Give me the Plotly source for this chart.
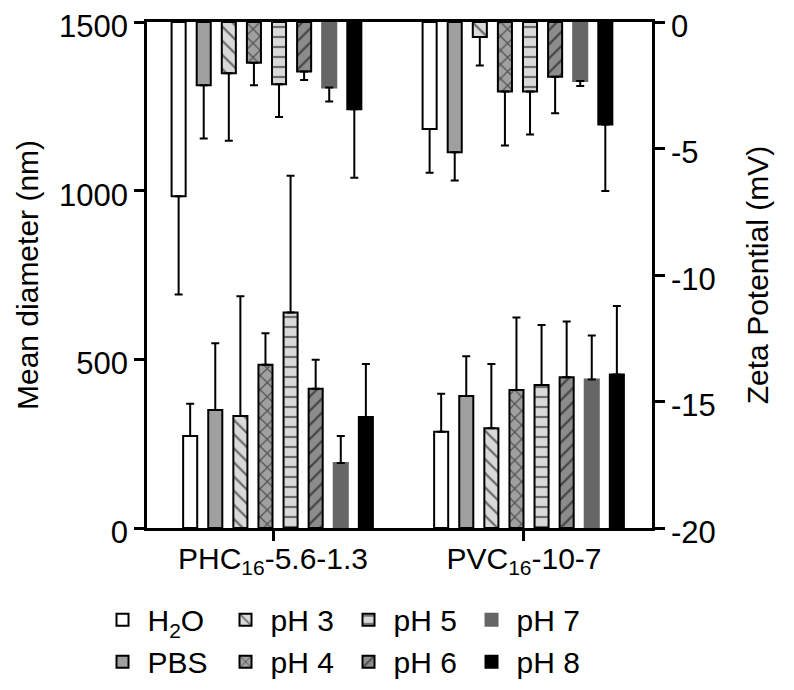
import plotly.graph_objects as go

# categories and series
groups = ["PHC<sub>16</sub>-5.6-1.3", "PVC<sub>16</sub>-10-7"]
series = ["H<sub>2</sub>O", "PBS", "pH 3", "pH 4", "pH 5", "pH 6", "pH 7", "pH 8"]

# mean diameter (nm), bars from the bottom, left axis
diam_phc = [273, 350, 332, 484, 639, 413, 193, 329]
diam_phc_err = [95, 198, 355, 93, 405, 86, 80, 157]
diam_pvc = [285, 391, 296, 409, 424, 447, 440, 455]
diam_pvc_err = [113, 118, 190, 215, 178, 165, 131, 203]

# zeta potential (mV), bars hanging from the top, right axis
zeta_phc = [-6.89, -2.50, -2.03, -1.61, -2.46, -1.96, -2.59, -3.45]
zeta_phc_err = [3.88, 2.10, 2.66, 0.89, 1.29, 0.33, 0.55, 2.71]
zeta_pvc = [-4.23, -5.15, -0.59, -2.75, -2.75, -2.16, -2.33, -4.05]
zeta_pvc_err = [1.73, 1.11, 1.13, 2.13, 1.70, 1.45, 0.20, 2.63]

diam_ticks = [0, 500, 1000, 1500]
zeta_ticks = [0, -5, -10, -15, -20]
zeta_ticktext = ["0", "-5", "-10", "-15", "-20"]

# style per series: fill, pattern shape, outline colour
styles = [
    dict(bg="#ffffff", shape="", line="#000000"),
    dict(bg="#a0a0a0", shape="", line="#000000"),
    dict(bg="#d9d9d9", shape="\\", line="#000000"),
    dict(bg="#a0a0a0", shape="x", line="#000000"),
    dict(bg="#d9d9d9", shape="-", line="#000000"),
    dict(bg="#8c8c8c", shape="/", line="#000000"),
    dict(bg="#666666", shape="", line="#666666"),
    dict(bg="#000000", shape="", line="#000000"),
]

FONT = "Liberation Sans, Arial, sans-serif"
STEP = 0.1      # spacing between bars within a group (x units)
WIDTH = 0.056   # bar width (x units)

fig = go.Figure()
xs = list(range(len(groups)))

for i, name in enumerate(series):
    st = styles[i]
    marker = dict(
        color=st["bg"],
        line=dict(color=st["line"], width=2),
        pattern=dict(shape=st["shape"], fgcolor="#000000", bgcolor=st["bg"],
                     size=10, solidity=0.22, fillmode="overlay"),
    )
    centre = (i - 3.5) * STEP
    # diameter bars
    fig.add_trace(go.Bar(
        x=xs, y=[diam_phc[i], diam_pvc[i]], name=name,
        width=WIDTH, offset=centre + 0.02 - WIDTH / 2,
        marker=marker, legendgroup=f"g{i // 2}",
        error_y=dict(type="data", symmetric=False,
                     array=[diam_phc_err[i], diam_pvc_err[i]], arrayminus=[0, 0],
                     color="#000000", thickness=2, width=4),
    ))
    # zeta bars
    fig.add_trace(go.Bar(
        x=xs, y=[zeta_phc[i], zeta_pvc[i]], name=name, yaxis="y2",
        width=WIDTH, offset=centre - 0.026 - WIDTH / 2,
        marker=marker, showlegend=False,
        error_y=dict(type="data", symmetric=False,
                     array=[0, 0], arrayminus=[zeta_phc_err[i], zeta_pvc_err[i]],
                     color="#000000", thickness=2, width=4),
    ))

axis_common = dict(showline=True, linecolor="#000000", linewidth=2.5,
                   ticks="outside", ticklen=10, tickwidth=2.5, tickcolor="#000000",
                   showgrid=False, zeroline=False, automargin=False,
                   ticklabeloverflow="allow",
                   tickfont=dict(size=31, color="#000000"))

fig.update_layout(
    width=794, height=690,
    barmode="overlay",
    plot_bgcolor="#ffffff", paper_bgcolor="#ffffff",
    font=dict(family=FONT, size=30, color="#000000"),
    # page body adds an 8px offset, so margins are shifted to compensate
    margin=dict(l=139, r=150, t=14, b=170, autoexpand=False),
    xaxis=dict(axis_common, range=[-0.502, 1.51], tickvals=xs, ticktext=groups,
               mirror=True, ticklabelstandoff=-8,
               tickfont=dict(size=30, color="#000000")),
    yaxis=dict(axis_common, range=[0, 1500], tickvals=diam_ticks, ticklabelshift=4,
               title=dict(text="Mean diameter (nm)", font=dict(size=30), standoff=12)),
    yaxis2=dict(axis_common, range=[-20, 0], tickvals=zeta_ticks, ticklabelshift=4,
                ticktext=zeta_ticktext, overlaying="y", side="right",
                title=dict(text="Zeta Potential (mV)", font=dict(size=30), standoff=33)),
    legend=dict(orientation="h", traceorder="grouped", tracegroupgap=0,
                x=-0.098, xanchor="left", y=-0.13, yanchor="top",
                font=dict(size=30), itemwidth=40,
                entrywidth=68, entrywidthmode="pixels"),
    showlegend=True,
)

fig.write_html("out.html")
